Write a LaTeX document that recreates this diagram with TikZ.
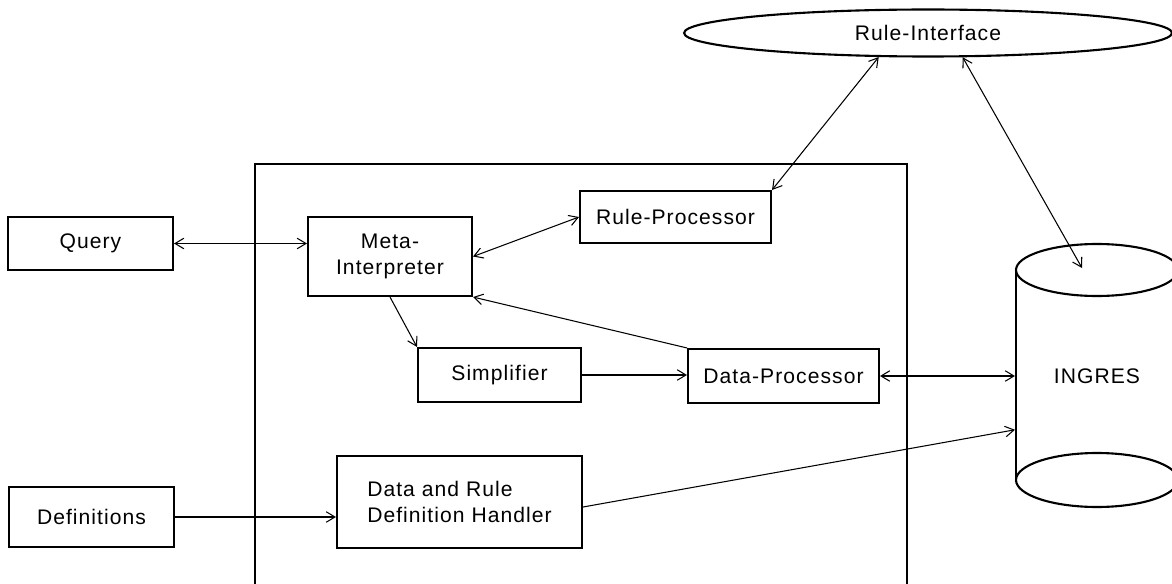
\documentclass[tikz,border=0pt]{standalone}
\usepackage{fontspec}
\setmainfont{Liberation Sans}[LetterSpace=5]
\usetikzlibrary{arrows.meta,shapes.geometric}

\begin{document}
\begin{tikzpicture}[x=0.02cm, y=-0.02cm,
    box/.style={draw, line width=1.2pt, align=center, inner sep=2pt,
                font=\fontsize{12}{15}\selectfont},
    link/.style={line width=0.6pt},
    >={Straight Barb[length=5pt,width=6pt]}]
    \useasboundingbox (0,0) rectangle (1172,584);

    % Outer frame (open at the bottom)
    \draw[line width=1pt] (255,584) |- (907,164) -- (907,584);

    % Outside inputs
    \node[box, minimum width=3.3cm, minimum height=1.06cm] (query) at (90.5,243.5) {Query};
    \node[box, minimum width=3.3cm, minimum height=1.2cm] (defs) at (91.5,517) {Definitions};

    % Boxes inside the frame
    \node[box, minimum width=3.28cm, minimum height=1.58cm] (meta) at (390,256.5) {Meta-\\Interpreter};
    \node[box, minimum width=3.82cm, minimum height=1.04cm] (rulep) at (675.5,217) {Rule-Processor};
    \node[box, minimum width=3.26cm, minimum height=1.08cm] (simp) at (499.5,375) {Simplifier};
    \node[box, minimum width=3.82cm, minimum height=1.08cm] (datap) at (783.5,376) {Data-Processor};
    \node[box, minimum width=4.9cm, minimum height=1.84cm, align=left] (handler) at (459.5,502) {Data and Rule\\Definition Handler};

    % Rule interface
    \node[box, ellipse, inner sep=0pt, minimum width=9.76cm, minimum height=0.94cm] (ruleif) at (928,33) {Rule-Interface};

    % INGRES database
    \node[box, draw=none, minimum width=3.24cm, minimum height=5.26cm] (ingres) at (1097,376.5) {INGRES};
    \draw[line width=1.2pt] (1016,270) -- (1016,480);
    \draw[line width=1.2pt] (1097,270) ellipse [x radius=81, y radius=26];
    \draw[line width=1.2pt] (1097,480) ellipse [x radius=81, y radius=27];
    \coordinate (dbtop) at (1082,268);

    % Connectors
    \draw[link, <->] (query.east) -- (query.east -| meta.west);
    \draw[link, <->] (meta.east) -- (rulep.west);
    \draw[link, <->] (rulep.north east) -- (ruleif.206);
    \draw[link, <->] (ruleif.325) -- (dbtop);
    \draw[link, ->] (meta.south) -- (simp.north west);
    \draw[link, ->] (datap.north west) -- (meta.south east);
    \draw[link, ->] (simp.east) -- (simp.east -| datap.west);
    \draw[link, <->] (datap.east) -- (datap.east -| ingres.west);
    \draw[link, ->] (defs.east) -- (defs.east -| handler.west);
    \draw[link, ->] ([yshift=-0.1cm]handler.east) -- (ingres.213);
\end{tikzpicture}
\end{document}
